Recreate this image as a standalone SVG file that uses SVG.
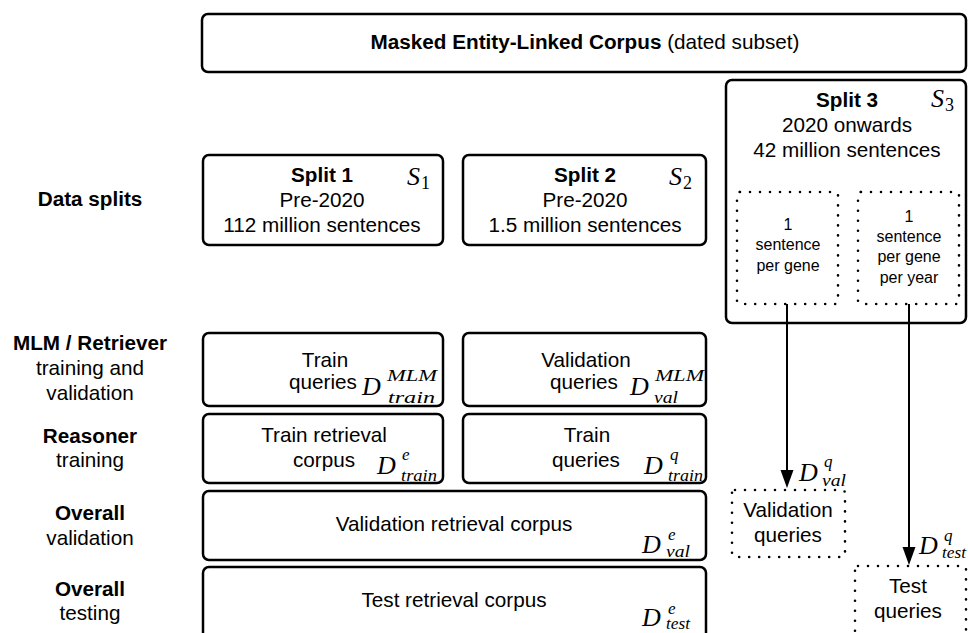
<svg xmlns="http://www.w3.org/2000/svg" width="968" height="633" viewBox="0 0 968 633">
<style>
  .box { fill: #fff; stroke: #000; stroke-width: 2.5; }
  .dot { fill: none; stroke: #000; stroke-width: 2.6; stroke-dasharray: 0 10; stroke-linecap: round; }
  .t { font-family: "Liberation Sans", Arial, sans-serif; font-size: 20.7px; fill: #000; }
  .c { text-anchor: middle; }
  .b { font-weight: bold; }
  .s { font-family: "Liberation Sans", Arial, sans-serif; font-size: 16px; fill: #000; text-anchor: middle; }
  .m { font-family: "Liberation Serif", "Times New Roman", serif; font-style: italic; font-size: 26px; fill: #000; }
  .mi { font-family: "Liberation Serif", "Times New Roman", serif; font-style: italic; font-size: 17px; fill: #000; }
  .mn { font-family: "Liberation Serif", "Times New Roman", serif; font-size: 18px; fill: #000; }
  .conn { stroke: #000; stroke-width: 2; fill: none; }
  .head { fill: #000; }
</style>

<!-- Row labels -->
<g id="labels">
  <text class="t c b" x="90" y="206">Data splits</text>
  <text class="t c b" x="90" y="350">MLM / Retriever</text>
  <text class="t c" x="90" y="375">training and</text>
  <text class="t c" x="90" y="400">validation</text>
  <text class="t c b" x="90" y="443">Reasoner</text>
  <text class="t c" x="90" y="467">training</text>
  <text class="t c b" x="90" y="520">Overall</text>
  <text class="t c" x="90" y="545">validation</text>
  <text class="t c b" x="90" y="596">Overall</text>
  <text class="t c" x="90" y="620">testing</text>
</g>

<g id="corpus">
  <rect class="box" x="202" y="14" width="764" height="58" rx="6"/>
  <text class="t c" x="585" y="49"><tspan class="b">Masked Entity-Linked Corpus</tspan> (dated subset)</text>
</g>

<g id="split1">
  <rect class="box" x="203" y="155" width="240" height="90" rx="6"/>
  <text class="t c b" x="322" y="182">Split 1</text>
  <text class="t c" x="322" y="207">Pre-2020</text>
  <text class="t c" x="322" y="232">112 million sentences</text>
  <text class="m" x="407" y="185">S</text>
  <text class="mn" x="421" y="189">1</text>
</g>

<g id="split2">
  <rect class="box" x="463" y="155" width="243" height="90" rx="6"/>
  <text class="t c b" x="585" y="182">Split 2</text>
  <text class="t c" x="585" y="207">Pre-2020</text>
  <text class="t c" x="585" y="232">1.5 million sentences</text>
  <text class="m" x="669" y="185">S</text>
  <text class="mn" x="683" y="189">2</text>
</g>

<g id="split3">
  <rect class="box" x="726" y="80" width="240" height="243" rx="6"/>
  <text class="t c b" x="847" y="107">Split 3</text>
  <text class="t c" x="847" y="132">2020 onwards</text>
  <text class="t c" x="847" y="157">42 million sentences</text>
  <text class="m" x="931" y="107">S</text>
  <text class="mn" x="945" y="111">3</text>
</g>

<g id="per-gene">
  <rect class="dot" x="737" y="192" width="101" height="112" rx="3"/>
  <text class="s" x="788" y="230">1</text>
  <text class="s" x="788" y="250">sentence</text>
  <text class="s" x="788" y="271">per gene</text>
</g>

<g id="per-gene-year">
  <rect class="dot" x="858" y="192" width="101" height="112" rx="3"/>
  <text class="s" x="909" y="222">1</text>
  <text class="s" x="909" y="242">sentence</text>
  <text class="s" x="909" y="262">per gene</text>
  <text class="s" x="909" y="283">per year</text>
</g>

<g id="mlm-train">
  <rect class="box" x="203" y="333" width="240" height="73" rx="6"/>
  <text class="t c" x="325" y="367">Train</text>
  <text class="t" x="289" y="389">queries</text>
  <text class="m" x="362" y="395">D</text>
  <text class="mi" x="387" y="381" textLength="50" lengthAdjust="spacingAndGlyphs">MLM</text>
  <text class="mi" x="388" y="403" textLength="47" lengthAdjust="spacingAndGlyphs">train</text>
</g>

<g id="mlm-val">
  <rect class="box" x="463" y="333" width="243" height="73" rx="6"/>
  <text class="t c" x="586" y="367">Validation</text>
  <text class="t" x="550" y="389">queries</text>
  <text class="m" x="630" y="395">D</text>
  <text class="mi" x="655" y="381" textLength="49" lengthAdjust="spacingAndGlyphs">MLM</text>
  <text class="mi" x="654" y="403" textLength="24" lengthAdjust="spacingAndGlyphs">val</text>
</g>

<g id="reasoner-corpus">
  <rect class="box" x="203" y="414" width="240" height="69" rx="6"/>
  <text class="t c" x="324" y="442">Train retrieval</text>
  <text class="t" x="293" y="467">corpus</text>
  <text class="m" x="377" y="474">D</text>
  <text class="mi" x="402" y="460">e</text>
  <text class="mi" x="401" y="481" textLength="36" lengthAdjust="spacingAndGlyphs">train</text>
</g>

<g id="reasoner-queries">
  <rect class="box" x="463" y="414" width="243" height="69" rx="6"/>
  <text class="t c" x="587" y="442">Train</text>
  <text class="t" x="552" y="467">queries</text>
  <text class="m" x="644" y="474">D</text>
  <text class="mi" x="670" y="460">q</text>
  <text class="mi" x="668" y="481" textLength="35" lengthAdjust="spacingAndGlyphs">train</text>
</g>

<g id="val-corpus">
  <rect class="box" x="203" y="491" width="503" height="69" rx="6"/>
  <text class="t c" x="454" y="531">Validation retrieval corpus</text>
  <text class="m" x="642" y="553">D</text>
  <text class="mi" x="668" y="540">e</text>
  <text class="mi" x="666" y="557" textLength="24" lengthAdjust="spacingAndGlyphs">val</text>
</g>

<g id="test-corpus">
  <rect class="box" x="203" y="567" width="503" height="80" rx="6"/>
  <text class="t c" x="454" y="607">Test retrieval corpus</text>
  <text class="m" x="642" y="626">D</text>
  <text class="mi" x="668" y="614">e</text>
  <text class="mi" x="666" y="629" textLength="24" lengthAdjust="spacingAndGlyphs">test</text>
</g>

<g id="val-queries">
  <rect class="dot" x="732" y="490" width="113" height="67" rx="3"/>
  <text class="t c" x="788" y="517">Validation</text>
  <text class="t c" x="788" y="542">queries</text>
  <text class="m" x="799" y="481">D</text>
  <text class="mi" x="824" y="467">q</text>
  <text class="mi" x="822" y="486" textLength="24" lengthAdjust="spacingAndGlyphs">val</text>
</g>

<g id="test-queries">
  <rect class="dot" x="855" y="566" width="111" height="80" rx="3"/>
  <text class="t c" x="908" y="593">Test</text>
  <text class="t c" x="908" y="618">queries</text>
  <text class="m" x="919" y="554">D</text>
  <text class="mi" x="944" y="541">q</text>
  <text class="mi" x="942" y="558" textLength="24" lengthAdjust="spacingAndGlyphs">test</text>
</g>

<g id="connectors">
  <line class="conn" x1="787" y1="304" x2="787" y2="472"/>
  <polygon class="head" points="780.5,470 793.5,470 787,488"/>
  <line class="conn" x1="909" y1="304" x2="909" y2="549"/>
  <polygon class="head" points="902.5,547 915.5,547 909,565"/>
</g>
</svg>
